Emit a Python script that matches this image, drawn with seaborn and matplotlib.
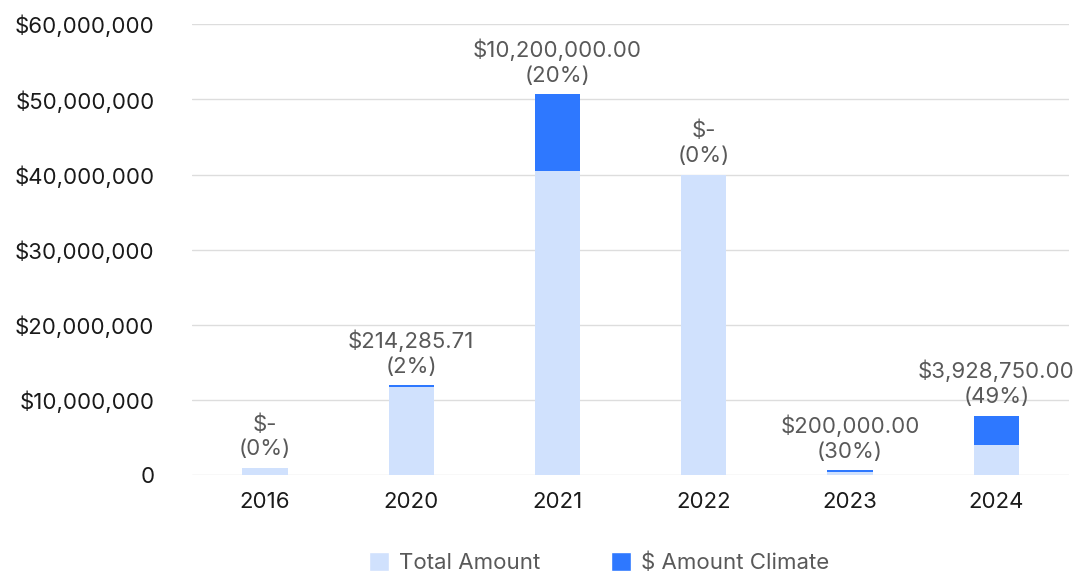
import numpy as np
import pandas as pd
import matplotlib
matplotlib.use("Agg")
import matplotlib.pyplot as plt
from matplotlib.patches import Patch
import seaborn as sns

# data
years = ["2016", "2020", "2021", "2022", "2023", "2024"]
total_amount = [1_000_000, 11_800_000, 40_500_000, 40_000_000, 470_000, 4_000_000]
climate_amount = [0, 214_285.71, 10_200_000, 0, 200_000, 3_928_750]
climate_labels = ["$-", "$214,285.71", "$10,200,000.00", "$-", "$200,000.00", "$3,928,750.00"]
climate_pct = ["0%", "2%", "20%", "0%", "30%", "49%"]

light_blue = "#d0e1fd"
dark_blue = "#2e78ff"

df = pd.DataFrame({"year": years, "total": total_amount, "climate": climate_amount})
df["stacked"] = df["total"] + df["climate"]

sns.set_style("white")
plt.rcParams["font.family"] = ["Inter", "DejaVu Sans"]

fig, ax = plt.subplots(figsize=(10.78, 5.76), dpi=100)
fig.subplots_adjust(left=0.178, right=0.992, top=0.958, bottom=0.175)

# stacked look: full height in dark, then the total drawn over it
sns.barplot(data=df, x="year", y="stacked", color=dark_blue, width=0.31,
            saturation=1, linewidth=0, ax=ax, zorder=2)
sns.barplot(data=df, x="year", y="total", color=light_blue, width=0.31,
            saturation=1, linewidth=0, ax=ax, zorder=3)

for i, row in df.iterrows():
    ax.annotate(f"{climate_labels[i]}\n({climate_pct[i]})", (i, row["stacked"]),
                xytext=(0, 6), textcoords="offset points", ha="center", va="bottom",
                fontsize=16, color="#595959", linespacing=1.3, zorder=5)

ax.set_ylim(0, 60_000_000)
ax.set_xlim(-0.5, 5.5)
ax.set_yticks(np.arange(0, 60_000_001, 10_000_000))
ax.set_yticklabels(["0"] + [f"${v:,.0f}" for v in np.arange(10_000_000, 60_000_001, 10_000_000)])
ax.yaxis.grid(True, color="#dddddd", linewidth=1, zorder=0)
ax.set_axisbelow(True)
ax.set_xlabel("")
ax.set_ylabel("")
for s in ax.spines.values():
    s.set_visible(False)
ax.tick_params(axis="y", labelsize=16, labelcolor="#1a1a1a", pad=27, length=0)
ax.tick_params(axis="x", labelsize=16, labelcolor="#1a1a1a", pad=12, length=0)

handles = [Patch(facecolor=light_blue, label="Total Amount"),
           Patch(facecolor=dark_blue, label="$ Amount Climate")]
fig.legend(handles=handles, loc="lower center", ncol=2, frameon=False,
           bbox_to_anchor=(0.556, -0.03), fontsize=16, labelcolor="#595959",
           handlelength=0.9, handleheight=0.9, handletextpad=0.45, columnspacing=3.2)

fig.savefig("out.png", dpi=100)
